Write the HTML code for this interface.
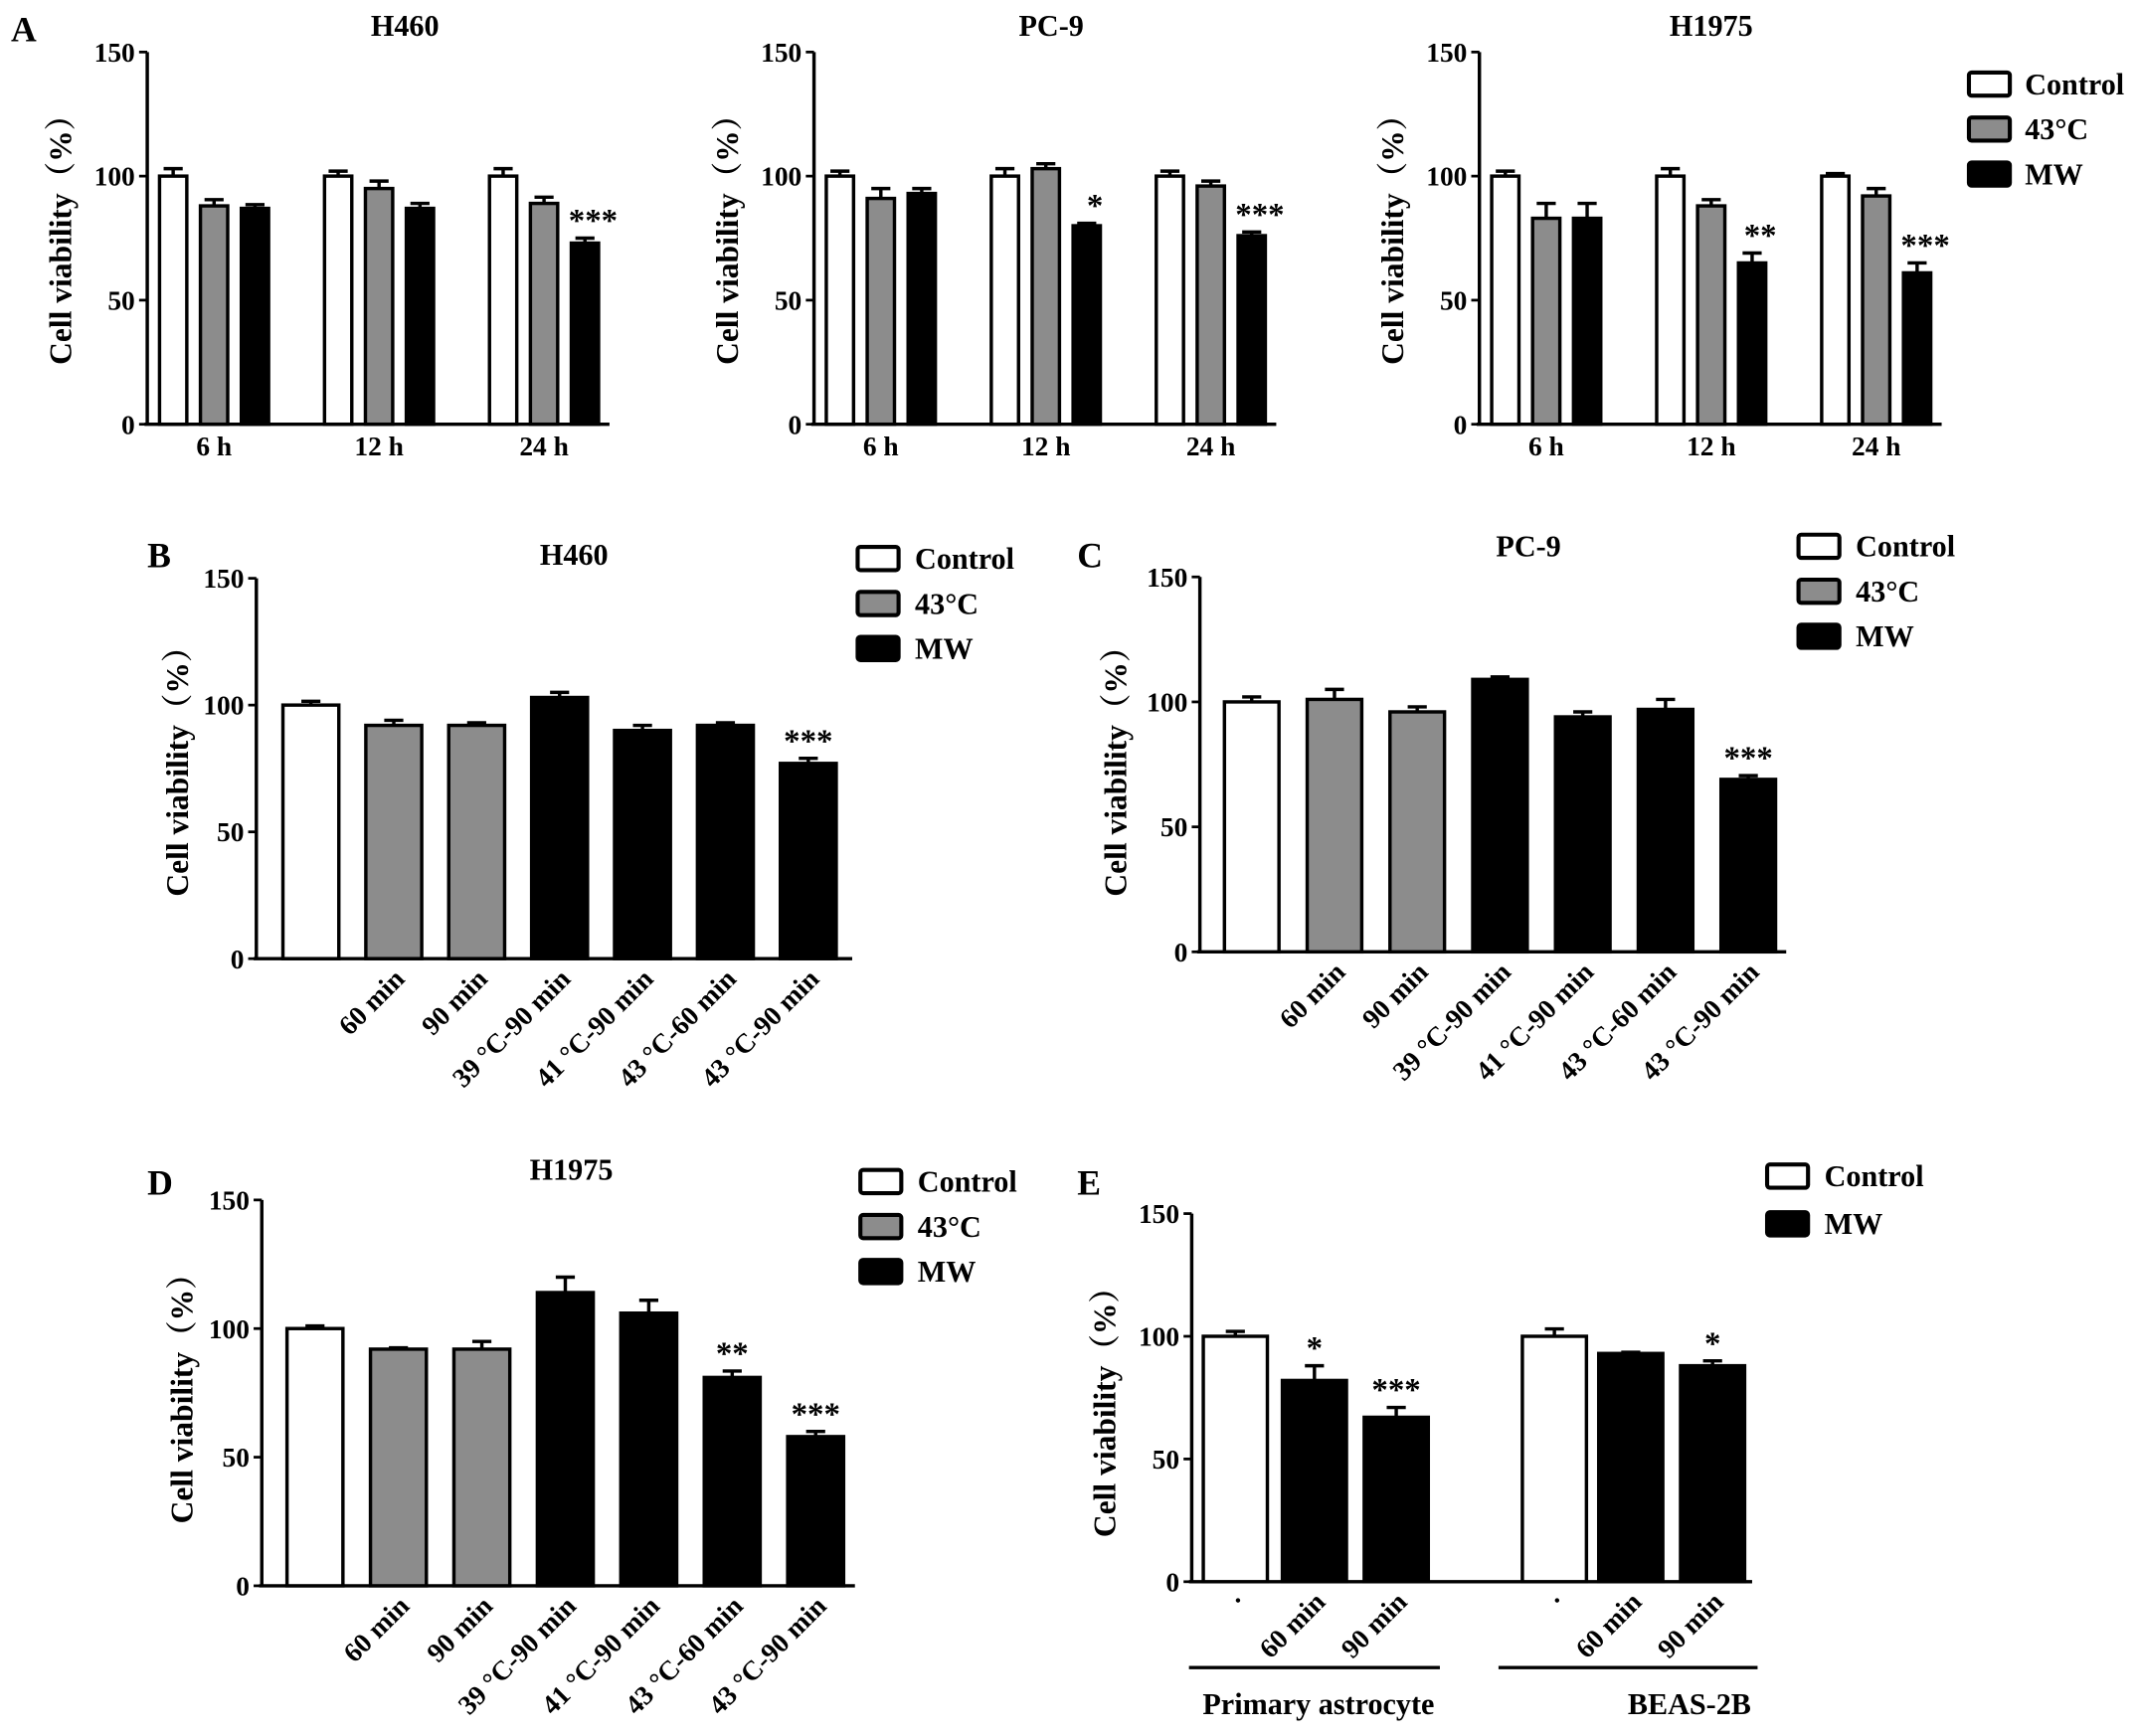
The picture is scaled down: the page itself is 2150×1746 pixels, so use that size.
<!DOCTYPE html>
<html><head><meta charset="utf-8"><style>
html,body{margin:0;padding:0;background:#fff}
svg{display:block}
text{font-family:"Liberation Serif","Noto Serif CJK SC",serif;font-weight:bold;fill:#000}
</style></head><body>
<svg id="fig" width="2150" height="1746" viewBox="0 0 1568 1273" xmlns="http://www.w3.org/2000/svg"></svg>
<script>
// Panel A data
const aCategories = ["6 h","12 h","24 h"];
const aH460Vals = [[100,88,87],[100,95,87],[100,89,73]];
const aH460Errs = [[3,2.5,1.5],[2,3,2],[3,2.5,2]];
const aH460Sig = [["","",""],["","",""],["","","***"]];
const aPC9Vals = [[100,91,93],[100,103,80],[100,96,76]];
const aPC9Errs = [[2,4,2],[3,2,1],[2,2,1.5]];
const aPC9Sig = [["","",""],["","","*"],["","","***"]];
const aH1975Vals = [[100,83,83],[100,88,65],[100,92,61]];
const aH1975Errs = [[2,6,6],[3,2.5,4],[1,3,4]];
const aH1975Sig = [["","",""],["","","**"],["","","***"]];
// Panels B-D categories
const tempCategories = ["","60 min","90 min","39 °C-90 min","41 °C-90 min","43 °C-60 min","43 °C-90 min"];
const tempColors = ["w","g","g","k","k","k","k"];
const bVals = [100,92,92,103,90,92,77];
const bErrs = [1.5,2,1,2,2,1,2];
const bSig = ["","","","","","","***"];
const cVals = [100,101,96,109,94,97,69];
const cErrs = [2,4,2,1,2,4,1.5];
const cSig = ["","","","","","","***"];
const dVals = [100,92,92,114,106,81,58];
const dErrs = [1,0.5,3,6,5,2.5,2];
const dSig = ["","","","","","**","***"];
// Panel E
const eCategories = ["·","60 min","90 min","·","60 min","90 min"];
const eColors = ["w","k","k","w","k","k"];
const eVals = [100,82,67,100,93,88];
const eErrs = [2,6,4,3,0.5,2];
const eSig = ["","*","***","","","*"];
const yTicks = [0,50,100,150];

const svg = document.getElementById('fig');
const NS = 'http://www.w3.org/2000/svg';
function mk(tag, attrs, parent){
  const e = document.createElementNS(NS, tag);
  for (const k in attrs) e.setAttribute(k, attrs[k]);
  (parent||svg).appendChild(e);
  return e;
}
function txt(x,y,s,size,anchor,parent,extra){
  const t = mk('text',Object.assign({x:x,y:y,'font-size':size,'text-anchor':anchor||'middle'},extra||{}),parent);
  t.textContent = s;
  return t;
}
const fills = {w:'#fff', g:'#8c8c8c', k:'#000'};

function panel(name, p){
  const g = mk('g',{});
  
  
  const y = v => p.y0 - (v/150)*(p.y0-p.y150);
  mk('line',{x1:p.ax,y1:p.y150,x2:p.ax,y2:p.y0,stroke:'#000','stroke-width':2.5},g);
  mk('line',{x1:p.ax-2,y1:p.y0,x2:p.xEnd,y2:p.y0,stroke:'#000','stroke-width':2.5},g);
  yTicks.forEach(t=>{
    mk('line',{x1:p.ax-6,y1:y(t),x2:p.ax,y2:y(t),stroke:'#000','stroke-width':2},g);
    txt(p.ax-9,y(t)+7,String(t),20,'end',g);
  });
  const yt = txt(p.ylx,p.yly,'Cell viability（%）',23,'middle',g,{transform:'rotate(-90 '+p.ylx+' '+p.yly+')'});
  
  
  if (p.title) txt(p.tx,p.ty,p.title,22,'middle',g);
  if (p.letter) txt(p.lx,p.ly,p.letter,26,'start',g);
  p.bars.forEach(b=>{
    const top = y(b.v);
    if (b.e>0){
      mk('line',{x1:b.cx,y1:top,x2:b.cx,y2:y(b.v+b.e),stroke:'#000','stroke-width':2.5},g);
      mk('line',{x1:b.cx-7,y1:y(b.v+b.e),x2:b.cx+7,y2:y(b.v+b.e),stroke:'#000','stroke-width':2.5},g);
    }
    const r = mk('rect',{x:b.cx-p.bw/2,y:top,width:p.bw,height:p.y0-top,fill:fills[b.c],stroke:'#000','stroke-width':2.5},g);
    
    
    if (b.s) txt(b.cx+(p.sigDx||0),y(b.v+b.e)-5,b.s,24,'middle',g);
    if (b.lab && p.rot){
      const lx=b.cx+9, ly=p.y0+16;
      txt(lx,ly,b.lab,20,'end',g,{transform:'rotate(-45 '+lx+' '+ly+')'});
    }
  });
  if (p.legend){
    p.legend.items.forEach((it,i)=>{
      const ly = p.legend.y + i*p.legend.dy;
      mk('rect',{x:p.legend.x,y:ly,width:30,height:17,rx:2,fill:fills[it.c],stroke:'#000','stroke-width':3},g);
      txt(p.legend.x+42,ly+16,it.s,22,'start',g);
    });
  }
  return g;
}
function groupBars(vals,errs,sig,startX,groupStep,barStep){
  const out=[]; const cols=['w','g','k'];
  vals.forEach((grp,i)=>grp.forEach((v,j)=>out.push({cx:startX+i*groupStep+j*barStep,v:v,e:errs[i][j],s:sig[i][j],c:cols[j]})));
  return out;
}
function seqBars(vals,errs,sig,cols,labs,xs){
  return vals.map((v,i)=>({cx:xs[i],v:v,e:errs[i],s:sig[i],c:cols[i],lab:labs[i]}));
}
const legend3 = [{c:'w',s:'Control'},{c:'g',s:'43°C'},{c:'k',s:'MW'}];

function panelA(name,ax,vals,errs,sig,title,tx,letter){
  const g = panel(name,{ax:ax,y0:311,y150:38,xEnd:ax+339,ylx:ax-56,yly:170,title:title,tx:tx,ty:26,
    letter:letter,lx:8,ly:30,bw:20,sigDx:6,bars:groupBars(vals,errs,sig,ax+19,121,30)});
  aCategories.forEach((c,i)=>txt(ax+49+i*121,334,c,20,'middle',g));
}
panelA('panel-a-h460',108,aH460Vals,aH460Errs,aH460Sig,'H460',297,'A');
panelA('panel-a-pc9',597,aPC9Vals,aPC9Errs,aPC9Sig,'PC-9',771,null);
panelA('panel-a-h1975',1085,aH1975Vals,aH1975Errs,aH1975Sig,'H1975',1255,null);
(function(){
  const g=mk('g',{});
  
  
  legend3.forEach((it,i)=>{
    const ly=53+i*33;
    mk('rect',{x:1444,y:ly,width:30,height:17,rx:2,fill:fills[it.c],stroke:'#000','stroke-width':3},g);
    txt(1485,ly+16,it.s,22,'start',g);
  });
})();

function xs7(start,step){return tempCategories.map((_,i)=>start+i*step);}
panel('panel-b',{ax:188,y0:703,y150:424,xEnd:625,ylx:138,yly:560,title:'H460',tx:421,ty:414,letter:'B',lx:108,ly:416,
  bw:41,rot:true,bars:seqBars(bVals,bErrs,bSig,tempColors,tempCategories,xs7(228,60.8)),
  legend:{x:629,y:401,dy:33,items:legend3}});
panel('panel-c',{ax:880,y0:698,y150:423,xEnd:1310,ylx:826,yly:560,title:'PC-9',tx:1121,ty:408,letter:'C',lx:790,ly:416,
  bw:40,rot:true,bars:seqBars(cVals,cErrs,cSig,tempColors,tempCategories,xs7(918,60.7)),
  legend:{x:1319,y:392,dy:33,items:legend3}});
panel('panel-d',{ax:192,y0:1163,y150:880,xEnd:627,ylx:141,yly:1020,title:'H1975',tx:419,ty:865,letter:'D',lx:108,ly:876,
  bw:41,rot:true,bars:seqBars(dVals,dErrs,dSig,tempColors,tempCategories,xs7(231,61.2)),
  legend:{x:631,y:858,dy:33,items:legend3}});
const eg = panel('panel-e',{ax:874,y0:1160,y150:890,xEnd:1285,ylx:818,yly:1030,title:null,letter:'E',lx:790,ly:876,
  bw:47,rot:true,bars:seqBars(eVals,eErrs,eSig,eColors,eCategories,[906,964,1024,1140,1196,1256]),
  legend:{x:1296,y:854,dy:35,items:[{c:'w',s:'Control'},{c:'k',s:'MW'}]}});
mk('line',{x1:872,y1:1223,x2:1056,y2:1223,stroke:'#000','stroke-width':2.5},eg);
mk('line',{x1:1099,y1:1223,x2:1289,y2:1223,stroke:'#000','stroke-width':2.5},eg);
txt(967,1257,'Primary astrocyte',22,'middle',eg);
txt(1239,1257,'BEAS-2B',22,'middle',eg);
</script>
</body></html>
